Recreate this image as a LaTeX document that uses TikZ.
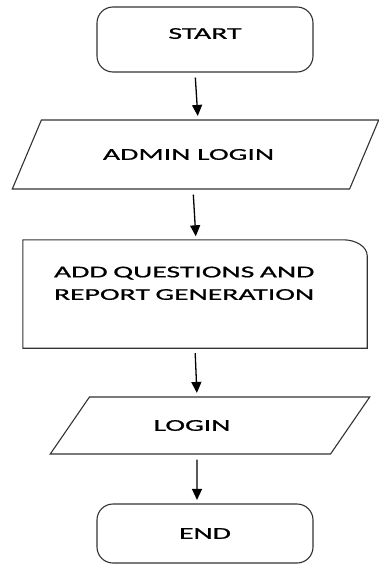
\documentclass[tikz,border=0pt]{standalone}
\usepackage{fontspec}
\setmainfont{Carlito}[FakeStretch=1.8, FakeBold=0.8]
\usepackage{tikz}
\usetikzlibrary{shapes.geometric, arrows.meta}
\definecolor{rahmen}{RGB}{50,50,50}
\tikzstyle{line} = [draw, line width=1.3pt, -{Triangle[width=10pt,length=11pt]}, shorten <=5pt, shorten >=3.5pt]
\tikzstyle{term} = [draw=rahmen, line width=1.1pt, rounded corners=16pt, minimum width=216pt]
\tikzstyle{io} = [draw=rahmen, line width=1.1pt, trapezium, trapezium stretches=true]

\begin{document}
\begin{tikzpicture}[x=1pt, y=1pt, >=latex,
				font=\fontsize{16.5}{22.5}\selectfont]
				\useasboundingbox (0,0) rectangle (379,-565);
				\node[term, minimum height=65pt, text depth=12pt] (start) at (205,-39.5) {START};
				\node[io, trapezium left angle=44, trapezium right angle=136, minimum width=367pt, minimum height=69pt] (admin) at (195.5,-154.5) {ADMIN LOGIN\hspace*{14pt}};
				\node[minimum width=344pt, minimum height=108pt, inner xsep=31pt, text width=282pt, align=left, text depth=44pt] (fragen) at (195,-294) {ADD QUESTIONS AND\\REPORT GENERATION};
				\node[io, trapezium left angle=42, trapezium right angle=138, minimum width=320pt, minimum height=57pt] (login) at (210,-425.5) {LOGIN\hspace*{36pt}};
				\node[term, minimum height=59pt] (ende) at (205,-533.5) {END};
				%Kasten mit runder Ecke oben rechts
				\draw[line width=1.1pt, color=rahmen] (fragen.south west) |- ([xshift=-24pt]fragen.north east) arc[start angle=90, end angle=0, x radius=24pt, y radius=16pt] -- (fragen.south east) -- cycle;
				%Pfeile
				\draw [line] ([xshift=-10pt]start.south) -- ([xshift=2.5pt]admin.north);
				\draw [line] ([xshift=-2.5pt]admin.south) -- ([xshift=1pt]fragen.north);
				\draw [line] (fragen.south) -- ([xshift=-13pt]login.north);
				\draw [line] ([xshift=-13pt]login.south) -- ([xshift=-8pt]ende.north);
\end{tikzpicture}
\end{document}
